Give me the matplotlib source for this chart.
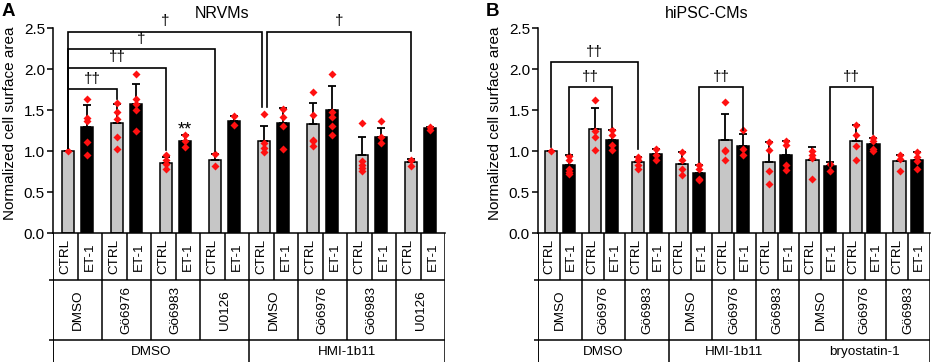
import matplotlib.pyplot as plt
import numpy as np

plt.rcParams['font.family'] = ['Liberation Sans', 'DejaVu Sans']

conds = ['CTRL', 'ET-1']

# panel A - NRVMs
a_drugs = ['DMSO', 'Gö6976', 'Gö6983', 'U0126', 'DMSO', 'Gö6976', 'Gö6983', 'U0126']
a_groups = ['DMSO', 'HMI-1b11']
a_means = [1.00, 1.30, 1.34, 1.575, 0.86, 1.13, 0.90, 1.375,
           1.12, 1.34, 1.33, 1.50, 0.95, 1.18, 0.875, 1.28]
a_err = [0.0, 0.265, 0.24, 0.25, 0.075, 0.07, 0.07, 0.055,
         0.19, 0.19, 0.255, 0.30, 0.23, 0.105, 0.035, 0.02]
a_dots = [[1.0],
          [1.64, 1.41, 1.37, 1.11, 0.95],
          [1.585, 1.475, 1.39, 1.18, 1.03],
          [1.94, 1.64, 1.575, 1.50, 1.25],
          [0.95, 0.90, 0.84, 0.79],
          [1.20, 1.12, 1.05],
          [0.97, 0.82],
          [1.43, 1.32],
          [1.46, 1.10, 1.04, 0.99],
          [1.52, 1.42, 1.31, 1.03],
          [1.72, 1.44, 1.14, 1.12, 1.07],
          [1.94, 1.48, 1.42, 1.31, 1.20],
          [1.345, 0.88, 0.83, 0.80, 0.76],
          [1.365, 1.17, 1.10],
          [0.90, 0.825],
          [1.30, 1.26]]
# (bar i, shift i, bar j, shift j, height, tip i, tip j, label)
a_brackets = [(0, 0, 8, -0.1, 2.46, 1.037, 1.545, '†'),
              (8, 0.1, 14, 0, 2.46, 1.545, 1.008, '†'),
              (0, 0, 6, 0, 2.244, 1.037, 1.008, '†'),
              (0, 0, 4, 0, 2.02, 1.037, 1.016, '††'),
              (0, 0, 2, 0, 1.756, 1.037, 1.64, '††')]
a_stars = [(5, 1.20, '**')]

# panel B - hiPSC-CMs
b_drugs = ['DMSO', 'Gö6976', 'Gö6983'] * 3
b_groups = ['DMSO', 'HMI-1b11', 'bryostatin-1']
b_means = [1.00, 0.837, 1.27, 1.14, 0.87, 0.963,
           0.85, 0.736, 1.134, 1.065, 0.874, 0.955,
           0.894, 0.82, 1.122, 1.085, 0.878, 0.90]
b_err = [0.0, 0.118, 0.255, 0.12, 0.057, 0.061,
         0.146, 0.101, 0.321, 0.142, 0.236, 0.171,
         0.156, 0.05, 0.203, 0.075, 0.082, 0.09]
b_dots = [[1.0],
          [0.947, 0.90, 0.78, 0.75, 0.72],
          [1.63, 1.244, 1.175, 1.02],
          [1.26, 1.20, 1.08, 1.01],
          [0.927, 0.89, 0.83, 0.78],
          [1.024, 0.955, 0.89],
          [0.996, 0.89, 0.79, 0.71],
          [0.837, 0.78, 0.66, 0.65],
          [1.60, 1.02, 1.00, 0.894],
          [1.264, 1.03, 0.96],
          [1.11, 1.02, 0.756, 0.60],
          [1.126, 1.08, 0.83, 0.77],
          [1.0, 0.955, 0.92, 0.66],
          [0.846, 0.756],
          [1.325, 1.195, 1.065, 0.898],
          [1.167, 1.12, 1.024, 1.004],
          [0.96, 0.91, 0.76],
          [0.99, 0.93, 0.88, 0.79]]
b_brackets = [(0, 0, 4, 0, 2.085, 1.057, 1.03, '††'),
              (1, 0, 3, 0, 1.78, 0.967, 1.30, '††'),
              (7, 0, 9, 0, 1.78, 0.866, 1.26, '††'),
              (13, 0, 15, 0, 1.78, 0.825, 1.207, '††')]
b_stars = []

W, H = 934, 364
fig = plt.figure(figsize=(W / 100, H / 100), dpi=100)

y0 = 233.3   # pixel row of y = 0
y25 = 28.3   # pixel row of y = 2.5
tab_rows = [46.7, 106.7, 128.7]
lw = 1.1


def panel(left, right, title, drugs, groups, means, err, dots, brackets, stars,
          off, bw, letter, letter_x, label_x):
    n = len(means)
    ax = fig.add_axes([left / W, (H - y0) / H, (right - left) / W, (y0 - y25) / H])
    tax = fig.add_axes([left / W, 0, (right - left) / W, (H - y0) / H])

    x = np.array([2 * (k // 2) + 1 + (off if k % 2 else -off) for k in range(n)])
    colors = ['#c6c6c6' if k % 2 == 0 else 'black' for k in range(n)]
    ax.bar(x, means, width=bw, color=colors, edgecolor='black', linewidth=lw, zorder=2)
    ax.errorbar(x, means, yerr=[np.zeros(n), err], fmt='none', ecolor='black',
                elinewidth=1.3, capsize=2.6, capthick=1.3, zorder=3)
    for k in range(n):
        ax.plot([x[k]] * len(dots[k]), dots[k], 'D', color='#ff1010', ms=3.6,
                mec='none', zorder=4)

    for i, di, j, dj, h, ti, tj, lab in brackets:
        xi, xj = x[i] + di, x[j] + dj
        ax.plot([xi, xi, xj, xj], [ti, h, h, tj], color='black', lw=1.2,
                solid_joinstyle='miter', clip_on=False, zorder=5)
        ax.text((xi + xj) / 2, h + 0.04, lab, ha='center', va='bottom', fontsize=11)
    for k, yy, lab in stars:
        ax.text(x[k], yy, lab, ha='center', va='baseline', fontsize=13)

    ax.set_xlim(0, n)
    ax.set_ylim(0, 2.5)
    ax.set_yticks([0, 0.5, 1.0, 1.5, 2.0, 2.5])
    ax.set_yticklabels(['0.0', '0.5', '1.0', '1.5', '2.0', '2.5'])
    ax.set_xticks([])
    ax.tick_params(axis='y', length=4, width=lw, labelsize=11, pad=2)
    for s in ['top', 'right']:
        ax.spines[s].set_visible(False)
    for s in ['left', 'bottom']:
        ax.spines[s].set_linewidth(lw)
    ax.set_ylabel('Normalized cell surface area', fontsize=11)
    ax.yaxis.set_label_coords((label_x - left) / (right - left), 0.538)
    ax.text(0.43, 1.07, title, transform=ax.transAxes, ha='center', va='center',
            fontsize=11.5)
    fig.text(letter_x / W, 1 - 3 / H, letter, fontsize=13.5, fontweight='bold',
             va='top', ha='left')

    # table below the axis
    tax.set_xlim(0, n)
    tax.set_ylim(H - y0, 0)
    tax.axis('off')
    tick = 4 * n / (right - left)
    r1, r2, r3 = tab_rows
    tax.vlines(range(n + 1), 0, r1, color='black', lw=lw)
    tax.vlines(range(0, n + 1, 2), r1, r2, color='black', lw=lw)
    gsize = n // len(groups)
    tax.vlines(range(0, n + 1, gsize), r2, r3, color='black', lw=lw)
    tax.vlines(0, 0, r3, color='black', lw=lw)
    tax.hlines([r1, r2], -tick, n, color='black', lw=lw, clip_on=False)
    for k in range(n):
        tax.text(k + 0.5, r1 / 2, conds[k % 2], rotation=90, ha='center',
                 va='center', fontsize=9.7)
    for p, d in enumerate(drugs):
        tax.text(2 * p + 1, (r1 + r2) / 2, d, rotation=90, ha='center',
                 va='center', fontsize=9.7)
    for g, name in enumerate(groups):
        tax.text(g * gsize + gsize / 2, (r2 + r3) / 2 + 1, name, ha='center',
                 va='center', fontsize=9.7)
    return ax


panel(53.3, 445, 'NRVMs', a_drugs, a_groups, a_means, a_err, a_dots,
      a_brackets, a_stars, 0.39, 0.5, 'A', 2, 17)
panel(538.3, 930, 'hiPSC-CMs', b_drugs, b_groups, b_means, b_err, b_dots,
      b_brackets, b_stars, 0.40, 0.56, 'B', 486, 502)

fig.savefig('out.png', dpi=100)
